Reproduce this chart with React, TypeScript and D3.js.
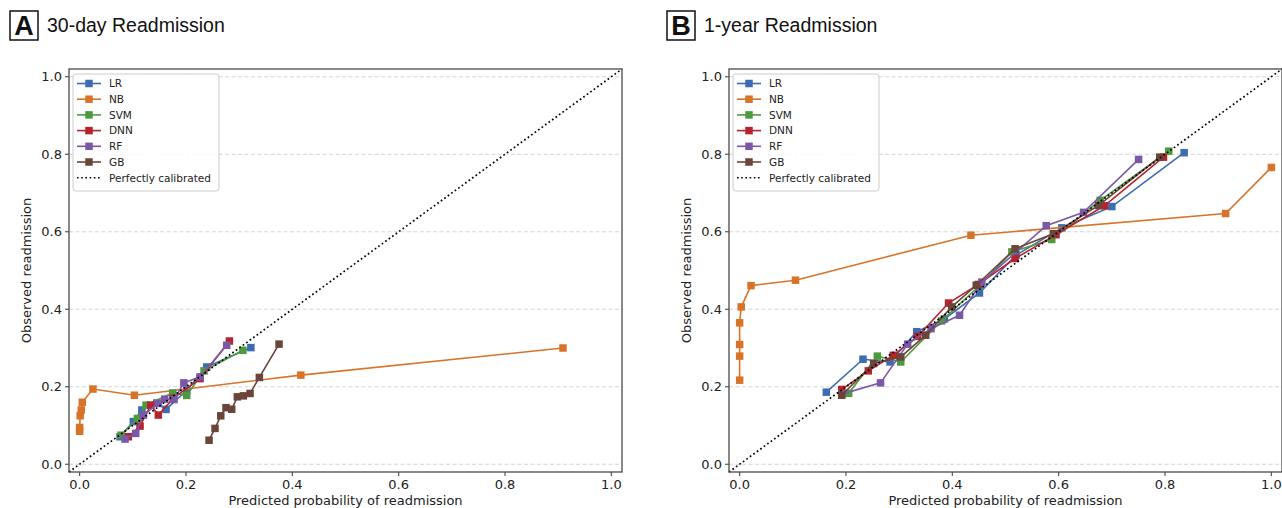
import * as d3 from "d3"

// ---- data ----
const models = ["LR", "NB", "SVM", "DNN", "RF", "GB"]
const colors = ["#3d6cb3", "#d8742a", "#4d9a3e", "#b5232d", "#7b58a7", "#6b4539"]
const ticks = [0, 0.2, 0.4, 0.6, 0.8, 1.0]

const lr30 = [[0.076, 0.071], [0.101, 0.11], [0.117, 0.14], [0.145, 0.158], [0.1625, 0.1415], [0.2014, 0.191], [0.239, 0.251], [0.322, 0.301]]
const nb30 = [[0.0, 0.085], [0.0, 0.095], [0.001, 0.125], [0.003, 0.14], [0.005, 0.16], [0.025, 0.194], [0.103, 0.178], [0.416, 0.23], [0.909, 0.3]]
const svm30 = [[0.078, 0.075], [0.1085, 0.118], [0.125, 0.1526], [0.175, 0.184], [0.2014, 0.1776], [0.234, 0.241], [0.307, 0.294]]
const dnn30 = [[0.0916, 0.071], [0.1136, 0.0985], [0.1337, 0.1526], [0.148, 0.127], [0.176, 0.17], [0.2265, 0.221], [0.2816, 0.318]]
const rf30 = [[0.0854, 0.065], [0.1055, 0.0796], [0.12, 0.127], [0.148, 0.157], [0.16, 0.168], [0.1775, 0.167], [0.196, 0.21], [0.2265, 0.2255], [0.2766, 0.307]]
const gb30 = [[0.2434, 0.062], [0.2546, 0.0925], [0.2654, 0.125], [0.2753, 0.146], [0.286, 0.142], [0.2966, 0.174], [0.3079, 0.1765], [0.3205, 0.1827], [0.338, 0.224], [0.375, 0.31]]

const lr1y = [[0.163, 0.186], [0.232, 0.271], [0.283, 0.264], [0.333, 0.342], [0.385, 0.375], [0.451, 0.442], [0.52, 0.54], [0.606, 0.61], [0.7, 0.665], [0.836, 0.804]]
const nb1y = [[0.0, 0.217], [0.0, 0.279], [0.0, 0.309], [0.0, 0.365], [0.003, 0.406], [0.0214, 0.461], [0.105, 0.475], [0.435, 0.591], [0.914, 0.647], [1.0, 0.766]]
const svm1y = [[0.205, 0.183], [0.259, 0.279], [0.303, 0.264], [0.38, 0.37], [0.452, 0.462], [0.512, 0.548], [0.587, 0.58], [0.678, 0.681], [0.807, 0.808]]
const dnn1y = [[0.192, 0.193], [0.242, 0.241], [0.289, 0.281], [0.335, 0.33], [0.393, 0.416], [0.449, 0.464], [0.518, 0.531], [0.595, 0.5925], [0.686, 0.667], [0.797, 0.7925]]
const rf1y = [[0.192, 0.181], [0.265, 0.21], [0.316, 0.31], [0.36, 0.35], [0.4135, 0.3845], [0.4555, 0.47], [0.5766, 0.6157], [0.6468, 0.65], [0.7503, 0.7866]]
const gb1y = [[0.192, 0.178], [0.252, 0.26], [0.303, 0.277], [0.35, 0.333], [0.399, 0.406], [0.445, 0.462], [0.518, 0.556], [0.59, 0.595], [0.675, 0.668], [0.79, 0.7925]]

const panels = [
    { letter: "A", title: "30-day Readmission", series: [lr30, nb30, svm30, dnn30, rf30, gb30], left: 69, titleX: 10 },
    { letter: "B", title: "1-year Readmission", series: [lr1y, nb1y, svm1y, dnn1y, rf1y, gb1y], left: 729, titleX: 667 },
]

const W = 1282
const H = 508
const plotW = 553
const top = 69
const bottom = 472
const sans = "'DejaVu Sans', sans-serif"
const spine = "#4a4a4a"

function Panel({ p }: { p: (typeof panels)[number] }) {
    const x = d3.scaleLinear().domain([-0.02, 1.02]).range([p.left, p.left + plotW])
    const y = d3.scaleLinear().domain([-0.02, 1.02]).range([bottom, top])
    const line = d3
        .line<number[]>()
        .x((d) => x(d[0]))
        .y((d) => y(d[1]))
    const ms = 7.5
    const lgX = p.left + 4
    const lgY = 74

    return (
        <g>
            {/* title */}
            <rect x={p.titleX} y={11} width={28} height={29} fill="none" stroke="#111" strokeWidth={1.5} />
            <text x={p.titleX + 14} y={35} textAnchor="middle" fontFamily="'Liberation Sans', Arial, sans-serif" fontWeight="bold" fontSize={27} fill="#111">
                {p.letter}
            </text>
            <text x={p.titleX + 37} y={32} fontFamily="'Liberation Sans', Arial, sans-serif" fontSize={19.5} fill="#111">
                {p.title}
            </text>

            {/* grid */}
            {ticks.map((t) => (
                <line key={"g" + t} x1={p.left} x2={p.left + plotW} y1={y(t)} y2={y(t)} stroke="#d0d0d0" strokeWidth={0.9} strokeDasharray="4 2.5" />
            ))}

            {/* series */}
            {p.series.map((s, i) => (
                <g key={models[i]}>
                    <path d={line(s) || ""} fill="none" stroke={colors[i]} strokeWidth={1.6} />
                    {s.map((d, j) => (
                        <rect key={j} x={x(d[0]) - ms / 2} y={y(d[1]) - ms / 2} width={ms} height={ms} fill={colors[i]} />
                    ))}
                </g>
            ))}

            {/* perfectly calibrated */}
            <path d={line([[-0.02, -0.02], [1.02, 1.02]]) || ""} fill="none" stroke="#000" strokeWidth={1.7} strokeDasharray="1.7 2.6" />

            {/* spines */}
            <rect x={p.left} y={top} width={plotW} height={bottom - top} fill="none" stroke={spine} strokeWidth={1.3} />

            {/* x ticks */}
            {ticks.map((t) => (
                <g key={"x" + t}>
                    <line x1={x(t)} x2={x(t)} y1={bottom} y2={bottom + 4} stroke={spine} strokeWidth={1.1} />
                    <text x={x(t)} y={489} textAnchor="middle" fontFamily={sans} fontSize={13} fill="#222">
                        {t.toFixed(1)}
                    </text>
                </g>
            ))}
            {/* y ticks */}
            {ticks.map((t) => (
                <g key={"y" + t}>
                    <line x1={p.left - 4} x2={p.left} y1={y(t)} y2={y(t)} stroke={spine} strokeWidth={1.1} />
                    <text x={p.left - 7} y={y(t) + 4.7} textAnchor="end" fontFamily={sans} fontSize={13} fill="#222">
                        {t.toFixed(1)}
                    </text>
                </g>
            ))}

            <text x={p.left + plotW / 2} y={505} textAnchor="middle" fontFamily={sans} fontSize={13} fill="#222">
                Predicted probability of readmission
            </text>
            <text
                transform={`translate(${p.left - 38},${(top + bottom) / 2}) rotate(-90)`}
                textAnchor="middle"
                fontFamily={sans}
                fontSize={13}
                fill="#222"
            >
                Observed readmission
            </text>

            {/* legend */}
            <rect x={lgX} y={lgY} width={146} height={117} rx={3} fill="#fff" fillOpacity={0.85} stroke="#cccccc" strokeWidth={1} />
            {models.map((m, i) => {
                const cy = lgY + 9.5 + i * 15.7
                return (
                    <g key={"lg" + m}>
                        <line x1={lgX + 4} x2={lgX + 28} y1={cy} y2={cy} stroke={colors[i]} strokeWidth={1.6} />
                        <rect x={lgX + 16 - ms / 2} y={cy - ms / 2} width={ms} height={ms} fill={colors[i]} />
                        <text x={lgX + 36} y={cy + 3.8} fontFamily={sans} fontSize={10.5} fill="#222">
                            {m}
                        </text>
                    </g>
                )
            })}
            <line x1={lgX + 4} x2={lgX + 28} y1={lgY + 9.5 + 6 * 15.7} y2={lgY + 9.5 + 6 * 15.7} stroke="#000" strokeWidth={1.6} strokeDasharray="1.6 2.6" />
            <text x={lgX + 36} y={lgY + 9.5 + 6 * 15.7 + 3.8} fontFamily={sans} fontSize={10.5} fill="#222">
                Perfectly calibrated
            </text>
        </g>
    )
}

export default function App() {
    return (
        <div style={{ position: "absolute", left: 0, top: 0, width: W, height: H, background: "#fff" }}>
            <svg width={W} height={H} viewBox={`0 0 ${W} ${H}`} style={{ display: "block" }}>
                <rect width={W} height={H} fill="#fff" />
                {panels.map((p) => (
                    <Panel key={p.letter} p={p} />
                ))}
            </svg>
        </div>
    )
}
